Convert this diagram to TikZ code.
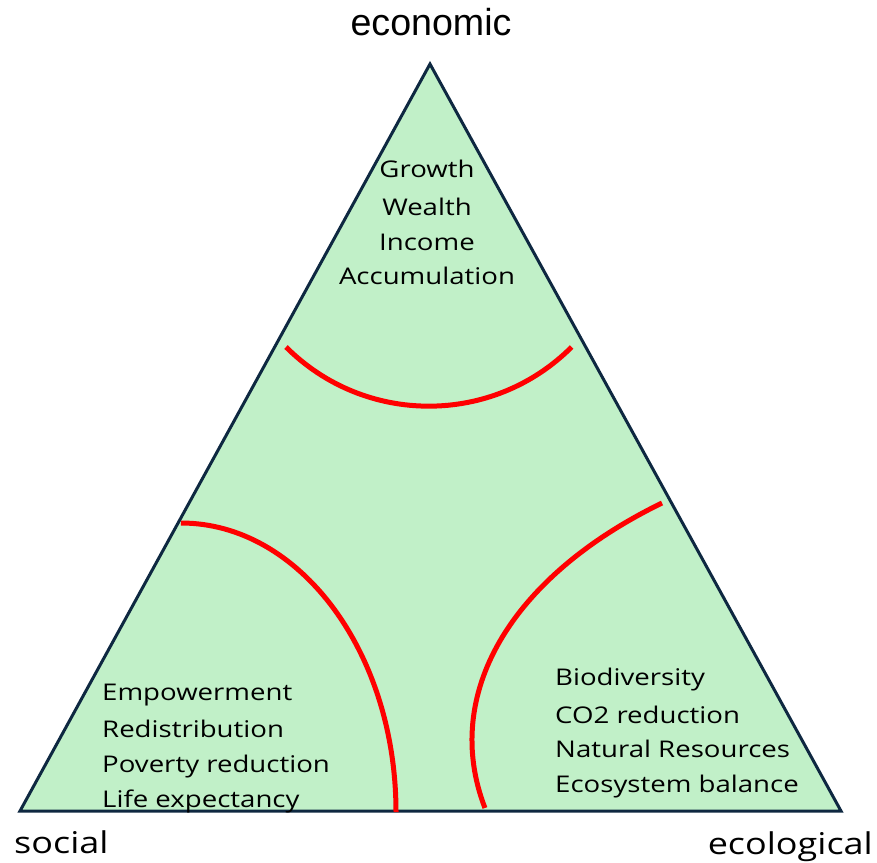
\documentclass[tikz,border=0pt]{standalone}
\usepackage{fontspec}
\setmainfont[FakeStretch=1.2]{Open Sans}
\newfontfamily\headfont{Liberation Sans}
\definecolor{edgenavy}{HTML}{0E2841}
\definecolor{leafgreen}{HTML}{C1F0C8}
\definecolor{bandred}{HTML}{FF0000}
\begin{document}
\begin{tikzpicture}[x=1pt,y=1pt,
  edge/.style={draw=edgenavy, fill=leafgreen, line width=3pt, line join=miter},
  band/.style={draw=bandred, line width=5pt},
  item/.style={inner sep=0pt, font=\fontsize{23}{28}\selectfont},
  corner/.style={inner sep=0pt, font=\fontsize{30}{36}\selectfont}]
\useasboundingbox (0,0) rectangle (877,-862);

% triangle corners
\coordinate (apex) at (430,-64);
\coordinate (sw) at (20,-811);
\coordinate (se) at (841,-811);
\path[edge] (apex) -- (sw) -- (se) -- cycle;

% dividing arcs
\coordinate (topA) at (286,-347);
\coordinate (leftA) at (181,-523);
\coordinate (rightA) at (662,-503);
\draw[band] (topA) arc[start angle=225, end angle=315, radius=202pt];
\draw[band] (leftA) arc[start angle=90, end angle=0, x radius=215pt, y radius=289pt];
\draw[band] (rightA) arc[start angle=129.9, end angle=192.7, x radius=530pt, y radius=309pt];

% corner labels
\node[inner sep=0pt, anchor=base, font=\headfont\fontsize{37.6}{44}\selectfont] (econ) at (431,-35) {economic};
\node[corner, anchor=base west] (soc) at (14,-853) {social};
\node[corner, anchor=base east] (eco) at (873,-854) {ecological};

% economic items
\node[item, anchor=base] (e1) at (427,-177) {Growth};
\node[item, anchor=base] (e2) at (427,-215) {Wealth};
\node[item, anchor=base] (e3) at (427,-250) {Income};
\node[item, anchor=base] (e4) at (427,-284) {Accumulation};

% social items
\node[item, anchor=base west] (s1) at (102,-700) {Empowerment};
\node[item, anchor=base west] (s2) at (102,-737) {Redistribution};
\node[item, anchor=base west] (s3) at (102,-772) {Poverty reduction};
\node[item, anchor=base west] (s4) at (102,-807) {Life expectancy};

% ecological items
\node[item, anchor=base west] (g1) at (555,-685) {Biodiversity};
\node[item, anchor=base west] (g2) at (555,-723) {CO2 reduction};
\node[item, anchor=base west] (g3) at (555,-757) {Natural Resources};
\node[item, anchor=base west] (g4) at (555,-792) {Ecosystem balance};
\end{tikzpicture}
\end{document}
